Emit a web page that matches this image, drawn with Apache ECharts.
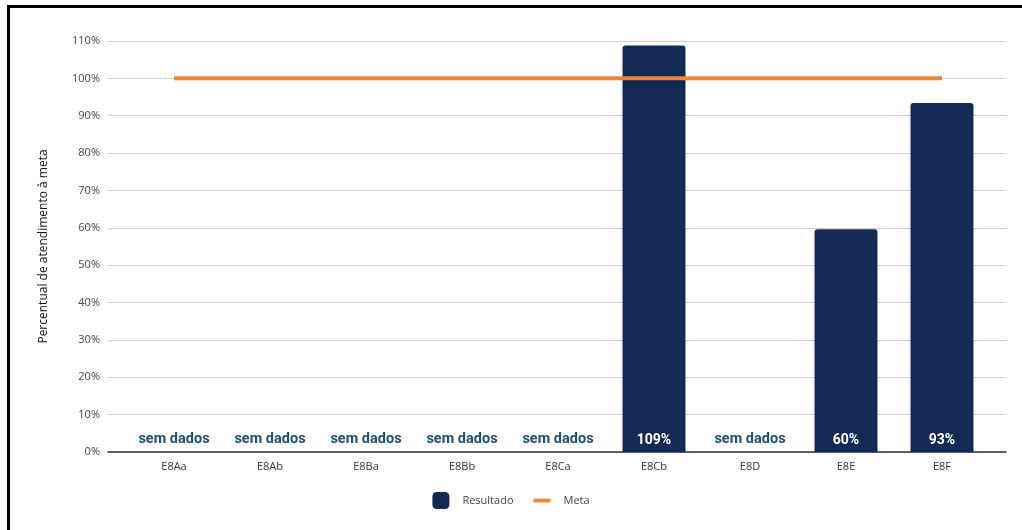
<!DOCTYPE html>
<html>
<head>
<meta charset="utf-8">
<script src="https://cdn.jsdelivr.net/npm/echarts@6/dist/echarts.min.js"></script>
<style>
html,body{margin:0;padding:0;background:#fff;}
#chart{position:absolute;left:0;top:0;width:1022px;height:530px;}
#frame{position:absolute;left:7px;top:5px;width:1015px;height:525px;border-left:3px solid #000;border-top:3px solid #000;pointer-events:none;box-sizing:border-box;}
</style>
</head>
<body>
<div id="chart"></div>
<div id="frame"></div>
<script>
const categories = ['E8Aa','E8Ab','E8Ba','E8Bb','E8Ca','E8Cb','E8D','E8E','E8F'];
const resultado = [null,null,null,null,null,108.8,null,59.6,93.4];
const meta = [100,100,100,100,100,100,100,100,100];
const yTicks = {min:0, max:110, interval:10};
const noDataText = 'sem dados';

const semDados = resultado.map(v => v == null ? 0 : null);
const navy = '#132B54';
const orange = '#F0843C';

const chart = echarts.init(document.getElementById('chart'), null, {renderer:'canvas'});
chart.setOption({
  animation:false,
  backgroundColor:'#fff',
  textStyle:{fontFamily:'"Open Sans", sans-serif'},
  grid:[
    {left:108, right:16, top:41, bottom:78},
    {left:126, right:32, top:41, bottom:78}
  ],
  legend:{
    data:[{name:'Resultado', icon:'roundRect'}, {name:'Meta', icon:'path://M0,0 H18 V4 H0 Z'}],
    bottom:16,
    left:'center',
    itemWidth:17, itemHeight:17, itemGap:20,
    textStyle:{color:'#444', fontSize:11, padding:[0,0,0,8], fontFamily:'"Open Sans", sans-serif'}
  },
  xAxis:[
    {gridIndex:0, type:'value', min:0, max:1, axisLine:{show:true, onZero:false, lineStyle:{color:'#333', width:1.5}},
     axisTick:{show:false}, axisLabel:{show:false}, splitLine:{show:false}},
    {gridIndex:1, type:'category', data:categories, axisLine:{show:false}, axisTick:{show:false},
     axisLabel:{color:'#333', fontSize:11, margin:9}}
  ],
  yAxis:[
    {gridIndex:0, type:'value', min:yTicks.min, max:yTicks.max, interval:yTicks.interval,
     name:'Percentual de atendimento à meta', nameLocation:'middle', nameGap:58, nameRotate:90,
     nameTextStyle:{color:'#111', fontSize:12},
     axisLine:{show:false}, axisTick:{show:false},
     axisLabel:{formatter:'{value}%', color:'#444', fontSize:11, margin:8},
     splitLine:{lineStyle:{color:'#cfcfcf', width:1}}},
    {gridIndex:1, type:'value', min:yTicks.min, max:yTicks.max, interval:yTicks.interval, show:false, splitLine:{show:false}}
  ],
  series:[
    {name:'Resultado', type:'bar', xAxisIndex:1, yAxisIndex:1, data:resultado, barWidth:63,
     itemStyle:{color:navy, borderRadius:[3,3,0,0]},
     label:{show:true, position:'insideBottom', distance:5, color:'#fff', fontWeight:'bold', fontSize:14,
       fontFamily:'Roboto, sans-serif', formatter:p => Math.round(p.value) + '%'}},
    {name:'semdados', type:'bar', xAxisIndex:1, yAxisIndex:1, data:semDados, barWidth:63, barGap:'-100%',
     itemStyle:{color:'transparent'},
     label:{show:true, position:'top', distance:5, color:'#1F4E79', fontWeight:'bold', fontSize:14.5,
       fontFamily:'Roboto, sans-serif', formatter:noDataText}},
    {name:'Meta', type:'line', xAxisIndex:1, yAxisIndex:1, data:meta, symbol:'none',
     itemStyle:{color:orange}, lineStyle:{color:orange, width:4}, z:5}
  ]
});
</script>
</body>
</html>
